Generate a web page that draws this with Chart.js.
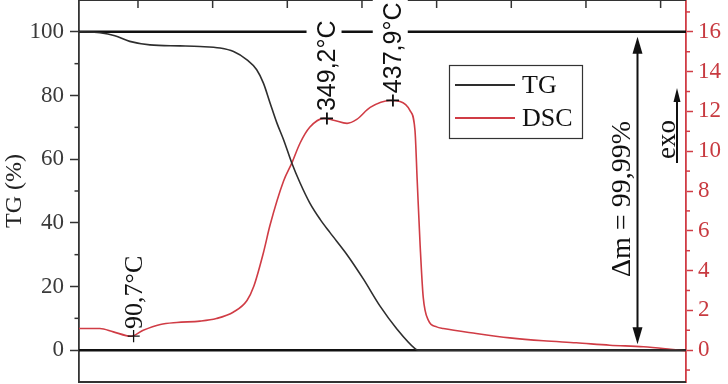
<!DOCTYPE html>
<html><head><meta charset="utf-8">
<script src="https://cdn.jsdelivr.net/npm/chart.js@4"></script>
<style>html,body{margin:0;padding:0;background:#fff}#wrap{width:728px;height:384px}</style>
</head><body><div id="wrap"><canvas id="c" width="728" height="384"></canvas></div>
<script>
// ---- data ----
const tgTemp  = [21, 49, 69, 89, 116, 156, 183, 210, 228, 246, 259, 268, 277, 286, 295, 306, 317, 330, 344, 357, 380, 402, 424, 447, 471, 475, 550, 650, 750, 834];
const tgValue = [100, 99.7, 98.8, 97, 95.9, 95.6, 95.4, 94.9, 93.8, 91.2, 88.1, 83.9, 77.6, 71.4, 66.1, 58.8, 52.6, 46.3, 41.1, 37, 30, 22.3, 13.9, 6.6, 0.5, 0, 0, 0, 0, 0];
const dscTemp  = [21, 27, 49, 67, 90.7, 107, 130, 152, 183, 205, 228, 246, 255, 268, 277, 295, 306, 317, 330, 349.2, 362, 380, 393, 411, 437.9, 451, 464, 471, 474, 478, 482, 489, 500, 509, 553, 598, 643, 687, 732, 777, 813, 834];
const dscValue = [1.09, 1.09, 1.09, 0.92, 0.7, 1.0, 1.29, 1.39, 1.46, 1.59, 1.92, 2.5, 3.2, 4.9, 6.3, 8.5, 9.4, 10.4, 11.2, 11.65, 11.56, 11.4, 11.6, 12.2, 12.55, 12.5, 12.06, 11.05, 8.5, 5.2, 2.68, 1.5, 1.17, 1.09, 0.84, 0.62, 0.47, 0.37, 0.25, 0.17, 0.05, -0.03];
const tgTicks = [0, 20, 40, 60, 80, 100];
const tgMinorTicks = [10, 30, 50, 70, 90];
const dscTicks = [0, 2, 4, 6, 8, 10, 12, 14, 16];
const dscMinorTicks = [-1, 1, 3, 5, 7, 9, 11, 13, 15, 17];
const tempTicks = [100, 200, 300, 400, 500, 600, 700, 800];
const peakTemp = [90.7, 349.2, 437.9];
const peakDsc = [0.7, 11.65, 12.55];
const peakLabels = ['+90,7°C', '+349,2°C', '+437,9°C'];
const refLines = [0, 100];
const massLossLabel = 'Δm = 99,99%';
const exoLabel = 'exo';

const SERIF = '"Liberation Serif", "Times New Roman", serif';
const SANS = '"Liberation Sans", Arial, sans-serif';
const RED = '#d03c45';

function arrowHead(ctx, x, y, dir, w, l) {
  ctx.beginPath();
  ctx.moveTo(x, y);
  ctx.lineTo(x - w / 2, y + dir * l);
  ctx.lineTo(x + w / 2, y + dir * l);
  ctx.closePath();
  ctx.fill();
}

const deco = {
  id: 'deco',
  beforeDatasetsDraw(chart) {
    const { ctx, chartArea: a, scales: { y } } = chart;
    ctx.save();
    ctx.strokeStyle = '#111';
    ctx.lineWidth = 2.5;
    refLines.forEach(v => {
      const py = y.getPixelForValue(v);
      ctx.beginPath(); ctx.moveTo(a.left, py); ctx.lineTo(a.right, py); ctx.stroke();
    });
    ctx.restore();
  },
  afterDatasetsDraw(chart) {
    const { ctx, chartArea: a, scales: { x, y, y2 } } = chart;
    ctx.save();
    // frame top / bottom
    ctx.strokeStyle = '#333';
    ctx.lineWidth = 2;
    ctx.beginPath(); ctx.moveTo(a.left, a.top); ctx.lineTo(a.right, a.top); ctx.stroke();
    ctx.beginPath(); ctx.moveTo(a.left, a.bottom); ctx.lineTo(a.right, a.bottom); ctx.stroke();
    // top ticks (inward)
    ctx.lineWidth = 1.5;
    tempTicks.forEach(t => {
      const px = x.getPixelForValue(t);
      ctx.beginPath(); ctx.moveTo(px, a.top); ctx.lineTo(px, a.top + 8); ctx.stroke();
    });
    // minor ticks left
    tgMinorTicks.forEach(v => {
      const py = y.getPixelForValue(v);
      ctx.beginPath(); ctx.moveTo(a.left - 4.5, py); ctx.lineTo(a.left, py); ctx.stroke();
    });
    // minor ticks right
    ctx.strokeStyle = RED;
    dscMinorTicks.forEach(v => {
      const py = y2.getPixelForValue(v);
      ctx.beginPath(); ctx.moveTo(a.right, py); ctx.lineTo(a.right + 4, py); ctx.stroke();
    });

    // peak annotations
    peakLabels.forEach((lab, i) => {
      const px = x.getPixelForValue(peakTemp[i]);
      const py = y2.getPixelForValue(peakDsc[i]);
      const serif = i === 0;
      const fs = serif ? 26 : 25;
      ctx.save();
      ctx.translate(px, py);
      ctx.rotate(-Math.PI / 2);
      ctx.font = fs + 'px ' + (serif ? SERIF : SANS);
      const plusW = ctx.measureText('+').width;
      const totalW = ctx.measureText(lab).width;
      if (!serif) {
        ctx.fillStyle = '#fff';
        ctx.fillRect(plusW / 2 + 2, -17.5, totalW - plusW + 2, 35);
      }
      ctx.fillStyle = '#111';
      ctx.textAlign = 'left';
      ctx.textBaseline = 'alphabetic';
      ctx.fillText(lab, -plusW / 2, 10.5);
      ctx.restore();
    });

    // legend
    const lx = 449, ly = 65, lw = 133, lh = 73;
    ctx.fillStyle = '#fff';
    ctx.fillRect(lx, ly, lw, lh);
    ctx.strokeStyle = '#333';
    ctx.lineWidth = 1.2;
    ctx.strokeRect(lx + 0.5, ly + 0.5, lw, lh);
    chart.data.datasets.forEach((ds, i) => {
      const yy = ly + 20 + i * 33;
      ctx.strokeStyle = ds.borderColor;
      ctx.lineWidth = 1.8;
      ctx.beginPath(); ctx.moveTo(lx + 6, yy); ctx.lineTo(lx + 66, yy); ctx.stroke();
      ctx.fillStyle = '#111';
      ctx.font = '26px ' + SERIF;
      ctx.textAlign = 'left';
      ctx.textBaseline = 'middle';
      ctx.fillText(ds.label, lx + 73, yy + 1);
    });

    // mass loss arrow
    const ax = 637.5;
    const yTop = y.getPixelForValue(refLines[1]) + 5;
    const yBot = y.getPixelForValue(refLines[0]) - 6;
    ctx.strokeStyle = '#111';
    ctx.fillStyle = '#111';
    ctx.lineWidth = 2;
    ctx.beginPath(); ctx.moveTo(ax, yTop + 10); ctx.lineTo(ax, yBot - 10); ctx.stroke();
    arrowHead(ctx, ax, yTop, 1, 10, 17);
    arrowHead(ctx, ax, yBot, -1, 10, 17);
    ctx.save();
    ctx.translate(630, 199);
    ctx.rotate(-Math.PI / 2);
    ctx.font = '28px ' + SERIF;
    ctx.textAlign = 'center';
    ctx.textBaseline = 'alphabetic';
    ctx.fillText(massLossLabel, 0, 0);
    ctx.restore();

    // exo arrow
    const ex = 677;
    ctx.lineWidth = 2;
    ctx.beginPath(); ctx.moveTo(ex, 163); ctx.lineTo(ex, 98); ctx.stroke();
    arrowHead(ctx, ex, 88, 1, 7, 14);
    ctx.save();
    ctx.translate(675, 139.5);
    ctx.rotate(-Math.PI / 2);
    ctx.font = '27px ' + SERIF;
    ctx.textAlign = 'center';
    ctx.textBaseline = 'alphabetic';
    ctx.fillText(exoLabel, 0, 0);
    ctx.restore();

    ctx.restore();
  }
};

new Chart(document.getElementById('c'), {
  type: 'line',
  data: {
    datasets: [
      { label: 'TG', data: tgTemp.map((t, i) => ({ x: t, y: tgValue[i] })), borderColor: '#2e2e2e', borderWidth: 1.6, yAxisID: 'y', cubicInterpolationMode: 'monotone', pointRadius: 0, fill: false },
      { label: 'DSC', data: dscTemp.map((t, i) => ({ x: t, y: dscValue[i] })), borderColor: RED, borderWidth: 1.6, yAxisID: 'y2', cubicInterpolationMode: 'monotone', pointRadius: 0, fill: false }
    ]
  },
  options: {
    responsive: false,
    animation: false,
    devicePixelRatio: 1,
    layout: { padding: { left: 0, right: 0, top: 0, bottom: 2 } },
    plugins: { legend: { display: false }, tooltip: { enabled: false } },
    scales: {
      x: { type: 'linear', min: 21, max: 834, display: false },
      y: {
        position: 'left', min: -10, max: 110,
        afterBuildTicks: s => { s.ticks = tgTicks.map(v => ({ value: v })); },
        afterFit: s => { s.width = 79; s.paddingTop = 0; s.paddingBottom = 0; },
        ticks: { color: '#3a3a3a', font: { family: SERIF, size: 23 }, padding: 6 },
        grid: { drawOnChartArea: false, tickLength: 9, tickColor: '#333', tickWidth: 1.5 },
        border: { color: '#333', width: 1.8 },
        title: { display: true, text: 'TG (%)', color: '#222', font: { family: SERIF, size: 24 }, padding: { top: 0, bottom: 0 } }
      },
      y2: {
        position: 'right', min: -1.6, max: 17.6,
        afterBuildTicks: s => { s.ticks = dscTicks.map(v => ({ value: v })); },
        afterFit: s => { s.width = 42; s.paddingTop = 0; s.paddingBottom = 0; },
        ticks: { color: '#c83a40', font: { family: SERIF, size: 23 }, padding: 5 },
        grid: { drawOnChartArea: false, tickLength: 7, tickColor: RED, tickWidth: 1.5 },
        border: { color: RED, width: 1.8 }
      }
    }
  },
  plugins: [deco]
});
</script>
</body></html>
